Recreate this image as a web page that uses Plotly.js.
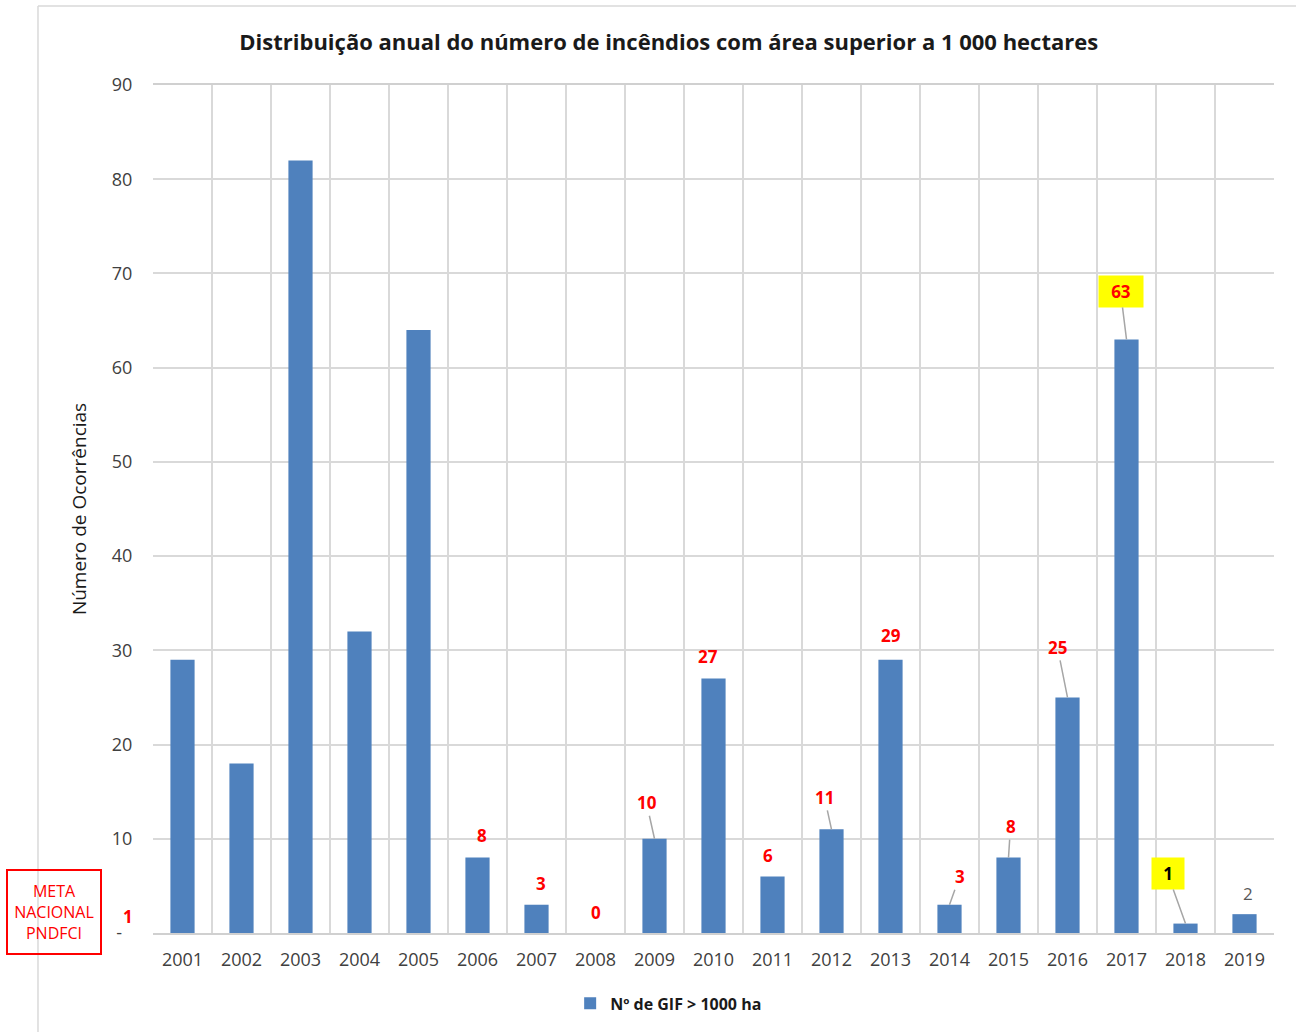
<!DOCTYPE html>
<html>
<head>
<meta charset="utf-8">
<script src="https://cdn.plot.ly/plotly-3.0.1.min.js"></script>
<style>
  html, body { margin: 0; padding: 0; background: #ffffff; }
  #chart { width: 1296px; height: 1032px; }
</style>
</head>
<body>
<div id="chart"></div>
<script>
// Annual number of wildfires larger than 1 000 ha
const years = ['2001','2002','2003','2004','2005','2006','2007','2008','2009','2010',
               '2011','2012','2013','2014','2015','2016','2017','2018','2019'];
const gifCount = [29, 18, 82, 32, 64, 8, 3, 0, 10, 27, 6, 11, 29, 3, 8, 25, 63, 1, 2];
const seriesName = 'Nº de GIF > 1000 ha';
const chartTitle = 'Distribuição anual do número de incêndios com área superior a 1 000 hectares';
const yTitle = 'Número de Ocorrências';
const metaText = 'META<br>NACIONAL<br>PNDFCI';
const metaValue = 1;

// Y axis ticks (accounting style: zero shown as a dash)
const yTickVals = [0, 10, 20, 30, 40, 50, 60, 70, 80, 90];
const yTickText = ['-\u2007', '10', '20', '30', '40', '50', '60', '70', '80', '90'];

// Years that carry a value label
const labelledYears = ['2006','2007','2008','2009','2010','2011','2012','2013',
                       '2014','2015','2016','2017','2018','2019'];

// Label placement (pixel offsets from bar top) and style per labelled year
const labelStyle = {
  '2006': {dx: 4,   dy: -22, leader: false},
  '2007': {dx: 4,   dy: -21, leader: false},
  '2008': {dx: 0,   dy: -21, leader: false},
  '2009': {dx: -8,  dy: -36, leader: true},
  '2010': {dx: -6,  dy: -22, leader: false},
  '2011': {dx: -5,  dy: -21, leader: false},
  '2012': {dx: -7,  dy: -32, leader: true},
  '2013': {dx: 0,   dy: -24, leader: false},
  '2014': {dx: 10,  dy: -28, leader: true},
  '2015': {dx: 2,   dy: -31, leader: true},
  '2016': {dx: -10, dy: -50, leader: true},
  '2017': {dx: -6,  dy: -48, leader: true, box: true},
  '2018': {dx: -18, dy: -50, leader: true, box: true, dark: true},
  '2019': {dx: 3,   dy: -21, leader: false, plain: true}
};

const FONT = 'Open Sans, Lato, Liberation Sans, sans-serif';
const GRID = '#d9d9d9';

const valueAnnotations = labelledYears.map(function (yr) {
  const s = labelStyle[yr];
  const idx = years.indexOf(yr);
  const v = gifCount[idx];
  const a = {
    x: idx, y: v, xref: 'x', yref: 'y',
    text: String(v),
    showarrow: true, arrowhead: 0, arrowwidth: 1.5,
    arrowcolor: s.leader ? '#a6a6a6' : 'rgba(0,0,0,0)',
    standoff: 0, startstandoff: 0,
    axref: 'pixel', ayref: 'pixel', ax: s.dx, ay: s.dy,
    font: {family: FONT, size: 17, color: s.dark ? '#000000' : (s.plain ? '#595959' : '#ff0000'),
           weight: s.plain ? 400 : 700}
  };
  if (s.box) {
    a.bgcolor = '#ffff00';
    a.width = (String(v).length > 1) ? 42 : 30;
    a.height = 29;
    a.borderpad = 1;
  }
  return a;
});

const trace = {
  type: 'bar',
  x: years,
  y: gifCount,
  name: seriesName,
  marker: {color: '#4f81bd', line: {width: 0}},
  hoverinfo: 'x+y'
};

const layout = {
  width: 1296, height: 1032,
  paper_bgcolor: '#ffffff', plot_bgcolor: '#ffffff',
  margin: {l: 153, r: 22, t: 85, b: 99},
  font: {family: FONT, color: '#404040'},
  title: {
    text: chartTitle,
    font: {family: FONT, size: 22, color: '#1a1a1a', weight: 700},
    x: 0.516, xref: 'container', xanchor: 'center',
    y: 0.959, yref: 'container', yanchor: 'middle'
  },
  bargap: 0.59,
  showlegend: true,
  legend: {
    orientation: 'h', x: 0.46, xanchor: 'center', y: -0.083, yanchor: 'middle',
    font: {family: FONT, size: 16, color: '#1a1a1a', weight: 700},
    itemwidth: 30
  },
  xaxis: {
    type: 'category',
    categoryorder: 'array', categoryarray: years,
    range: [-0.5, years.length - 0.5],
    autorange: false,
    tickson: 'boundaries',
    tickangle: 0,
    showgrid: true, gridcolor: GRID, gridwidth: 1.5,
    showline: true, mirror: true, linecolor: '#d0d0d0', linewidth: 1.5,
    ticks: 'outside', ticklen: 6, tickcolor: 'rgba(0,0,0,0)',
    ticklabelstandoff: 10,
    tickfont: {family: FONT, size: 18, color: '#404040'},
    fixedrange: true
  },
  yaxis: {
    range: [0, 90], autorange: false,
    tickmode: 'array', tickvals: yTickVals, ticktext: yTickText,
    showgrid: true, gridcolor: GRID, gridwidth: 1.5,
    zeroline: false, showline: false,
    ticks: 'outside', ticklen: 16, tickcolor: 'rgba(0,0,0,0)',
    tickfont: {family: FONT, size: 18, color: '#404040'},
    title: {text: yTitle, font: {family: FONT, size: 19, color: '#1a1a1a'}, standoff: 20},
    fixedrange: true
  },
  shapes: [
    // outer chart frame (left and top edges)
    {type: 'line', xref: 'paper', yref: 'paper', x0: -0.1026, x1: -0.1026, y0: -0.13, y1: 1.0932,
     line: {color: GRID, width: 1.5}},
    {type: 'line', xref: 'paper', yref: 'paper', x0: -0.1026, x1: 1.03, y0: 1.0932, y1: 1.0932,
     line: {color: GRID, width: 1.5}}
  ],
  annotations: valueAnnotations.concat([
    {
      xref: 'paper', yref: 'paper', x: -0.0883, y: 0.0248, xanchor: 'center', yanchor: 'middle',
      text: metaText, showarrow: false, align: 'center',
      font: {family: FONT, size: 16, color: '#ff0000'},
      bordercolor: '#ff0000', borderwidth: 2, borderpad: 0, width: 92, height: 82
    },
    {
      xref: 'paper', yref: 'paper', x: -0.0223, y: 0.0189, xanchor: 'center', yanchor: 'middle',
      text: String(metaValue), showarrow: false,
      font: {family: FONT, size: 17, color: '#ff0000', weight: 700}
    }
  ])
};

Plotly.newPlot('chart', [trace], layout, {displayModeBar: false, responsive: false});
</script>
</body>
</html>
